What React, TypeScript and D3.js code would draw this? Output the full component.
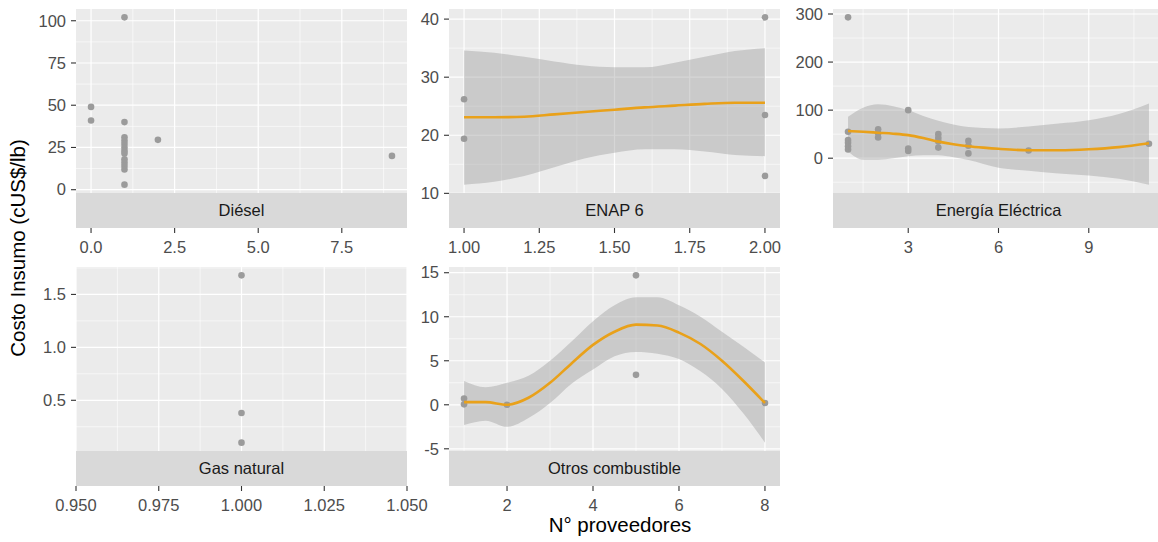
import React from "react";
import * as d3 from "d3";

// ---------- Data ----------
const dieselX = [0, 0, 1, 1, 1, 1, 1, 1, 1, 1, 1, 1, 1, 1, 1, 2, 9];
const dieselY = [49, 41, 102, 40, 31, 29, 27, 25, 23, 21.5, 18, 16, 14, 12, 3, 29.5, 20];

const enapX = [1, 1, 2, 2, 2];
const enapY = [26.2, 19.4, 40.3, 23.5, 13];
const enapFitX = [1, 1.1, 1.2, 1.3, 1.4, 1.5, 1.6, 1.7, 1.8, 1.9, 2.0];
const enapFit = [23.1, 23.1, 23.2, 23.6, 24.0, 24.4, 24.8, 25.1, 25.4, 25.6, 25.6];
const enapHi = [34.6, 34.2, 33.5, 32.7, 32.0, 31.7, 31.7, 32.5, 33.5, 34.5, 35.0];
const enapLo = [11.5, 12.0, 13.0, 14.5, 16.0, 17.0, 17.6, 17.6, 17.2, 16.6, 16.4];

const elecX = [1, 1, 1, 1, 1, 1, 2, 2, 2, 3, 3, 3, 4, 4, 4, 4, 5, 5, 5, 7, 11];
const elecY = [293, 55, 38, 32, 25, 18, 60, 52, 43, 100, 20, 15, 50, 42, 35, 22, 36, 26, 10, 16, 30];
const elecFitX = [1, 1.5, 2, 2.5, 3, 3.5, 4, 4.5, 5, 5.5, 6, 7, 8, 9, 10, 11];
const elecFit = [56.6, 55, 53, 51, 48, 42, 34.5, 29, 25, 22, 19.5, 16.5, 16.5, 18.5, 23, 31];
const elecHi = [86, 105, 112, 108, 100, 88, 78, 70, 65, 63, 62, 66, 72, 79, 92, 114];
const elecLo = [14, -3, -3, 0, 4, 6, 6, 2, -4, -12, -20, -26, -32, -36, -43, -55];

const gasX = [1, 1, 1];
const gasY = [1.68, 0.38, 0.1];

const otrosX = [1, 1, 2, 5, 5, 8];
const otrosY = [0.7, 0.05, 0, 14.7, 3.4, 0.2];
const otrosFitX = [1, 1.5, 2, 2.5, 3, 3.5, 4, 4.5, 5, 5.5, 6, 6.5, 7, 7.5, 8];
const otrosFit = [0.3, 0.3, 0, 0.8, 2.5, 4.7, 6.8, 8.3, 9.1, 9.0, 8.2, 6.9, 5.0, 2.7, 0.2];
const otrosHi = [2.7, 2.0, 2.5, 3.3, 5.0, 7.2, 9.5, 11.3, 12.2, 12.2, 11.3, 10.0, 8.3, 6.6, 4.8];
const otrosLo = [-2.3, -1.8, -2.5, -1.5, 0.2, 2.4, 4.0, 5.5, 6.0, 5.8, 5.2, 3.8, 1.8, -1.0, -4.3];

const panelNames = ["Diésel", "ENAP 6", "Energía Eléctrica", "Gas natural", "Otros combustible"];

const dieselXTicks = [0, 2.5, 5, 7.5];
const dieselXLabels = ["0.0", "2.5", "5.0", "7.5"];
const dieselYTicks = [0, 25, 50, 75, 100];
const dieselYLabels = ["0", "25", "50", "75", "100"];
const enapXTicks = [1, 1.25, 1.5, 1.75, 2];
const enapXLabels = ["1.00", "1.25", "1.50", "1.75", "2.00"];
const enapYTicks = [10, 20, 30, 40];
const enapYLabels = ["10", "20", "30", "40"];
const elecXTicks = [3, 6, 9];
const elecXLabels = ["3", "6", "9"];
const elecYTicks = [0, 100, 200, 300];
const elecYLabels = ["0", "100", "200", "300"];
const gasXTicks = [0.95, 0.975, 1, 1.025, 1.05];
const gasXLabels = ["0.950", "0.975", "1.000", "1.025", "1.050"];
const gasYTicks = [0.5, 1.0, 1.5];
const gasYLabels = ["0.5", "1.0", "1.5"];
const otrosXTicks = [2, 4, 6, 8];
const otrosXLabels = ["2", "4", "6", "8"];
const otrosYTicks = [-5, 0, 5, 10, 15];
const otrosYLabels = ["-5", "0", "5", "10", "15"];

const xTitle = "N° proveedores";
const yTitle = "Costo Insumo (cUS$/lb)";

// ---------- Layout ----------
const W = 1158;
const H = 542;
const colLeft = [76, 449, 833];
const panelW = 331;
const rowTop = [9, 267];
const panelH = 184;
const stripH = 35;
const FONT = "'Liberation Sans', Arial, Helvetica, sans-serif";
const TICK_FS = 16.5;
const TITLE_FS = 20.5;

type Fit = { x: number[]; y: number[]; lo: number[]; hi: number[] } | null;
type PanelDef = {
  name: string;
  xs: number[];
  ys: number[];
  fit: Fit;
  xTicks: number[];
  xLabels: string[];
  yTicks: number[];
  yLabels: string[];
  col: number;
  row: number;
};

const panels: PanelDef[] = [
  { name: panelNames[0], xs: dieselX, ys: dieselY, fit: null, xTicks: dieselXTicks, xLabels: dieselXLabels, yTicks: dieselYTicks, yLabels: dieselYLabels, col: 0, row: 0 },
  { name: panelNames[1], xs: enapX, ys: enapY, fit: { x: enapFitX, y: enapFit, lo: enapLo, hi: enapHi }, xTicks: enapXTicks, xLabels: enapXLabels, yTicks: enapYTicks, yLabels: enapYLabels, col: 1, row: 0 },
  { name: panelNames[2], xs: elecX, ys: elecY, fit: { x: elecFitX, y: elecFit, lo: elecLo, hi: elecHi }, xTicks: elecXTicks, xLabels: elecXLabels, yTicks: elecYTicks, yLabels: elecYLabels, col: 2, row: 0 },
  { name: panelNames[3], xs: gasX, ys: gasY, fit: null, xTicks: gasXTicks, xLabels: gasXLabels, yTicks: gasYTicks, yLabels: gasYLabels, col: 0, row: 1 },
  { name: panelNames[4], xs: otrosX, ys: otrosY, fit: { x: otrosFitX, y: otrosFit, lo: otrosLo, hi: otrosHi }, xTicks: otrosXTicks, xLabels: otrosXLabels, yTicks: otrosYTicks, yLabels: otrosYLabels, col: 1, row: 1 },
];

function expand(vals: number[]): [number, number] {
  const mn = d3.min(vals)!;
  const mx = d3.max(vals)!;
  if (mx === mn) return [mn - 0.05 * Math.abs(mn || 1), mx + 0.05 * Math.abs(mx || 1)];
  const e = (mx - mn) * 0.05;
  return [mn - e, mx + e];
}

function minors(majors: number[], dom: [number, number]): number[] {
  if (majors.length < 2) return [];
  const step = majors[1] - majors[0];
  const out: number[] = [majors[0] - step / 2];
  majors.forEach((m) => out.push(m + step / 2));
  return out.filter((v) => v > dom[0] && v < dom[1]);
}

function Panel({ p, idx }: { p: PanelDef; idx: number }) {
  const left = colLeft[p.col];
  const top = rowTop[p.row];
  const xDom = expand(p.xs);
  const yVals = p.fit ? [...p.ys, ...p.fit.lo, ...p.fit.hi] : p.ys;
  const yDom = expand(yVals);
  const x = d3.scaleLinear().domain(xDom).range([left, left + panelW]);
  const y = d3.scaleLinear().domain(yDom).range([top + panelH, top]);
  const xMin = minors(p.xTicks, xDom);
  const yMin = minors(p.yTicks, yDom);
  const clipId = `clip${idx}`;
  const stripTop = top + panelH;
  const axisY = stripTop + stripH;

  let bandPath = "";
  let linePath = "";
  if (p.fit) {
    const f = p.fit;
    const idxs = f.x.map((_, i) => i);
    bandPath = d3
      .area<number>()
      .x((i) => x(f.x[i]))
      .y0((i) => y(f.lo[i]))
      .y1((i) => y(f.hi[i]))
      .curve(d3.curveMonotoneX)(idxs) || "";
    linePath = d3
      .line<number>()
      .x((i) => x(f.x[i]))
      .y((i) => y(f.y[i]))
      .curve(d3.curveMonotoneX)(idxs) || "";
  }

  return (
    <g>
      <defs>
        <clipPath id={clipId}>
          <rect x={left} y={top} width={panelW} height={panelH} />
        </clipPath>
      </defs>
      <rect x={left} y={top} width={panelW} height={panelH} fill="#EBEBEB" />
      {yMin.map((v, i) => (
        <line key={"ym" + i} x1={left} x2={left + panelW} y1={y(v)} y2={y(v)} stroke="#fff" strokeWidth={0.6} />
      ))}
      {xMin.map((v, i) => (
        <line key={"xm" + i} x1={x(v)} x2={x(v)} y1={top} y2={top + panelH} stroke="#fff" strokeWidth={0.6} />
      ))}
      {p.yTicks.map((v, i) => (
        <line key={"yM" + i} x1={left} x2={left + panelW} y1={y(v)} y2={y(v)} stroke="#fff" strokeWidth={1.2} />
      ))}
      {p.xTicks.map((v, i) => (
        <line key={"xM" + i} x1={x(v)} x2={x(v)} y1={top} y2={top + panelH} stroke="#fff" strokeWidth={1.2} />
      ))}
      <g clipPath={`url(#${clipId})`}>
        {p.xs.map((v, i) => (
          <circle key={"pt" + i} cx={x(v)} cy={y(p.ys[i])} r={3.3} fill="#9b9b9b" />
        ))}
        {p.fit && <path d={bandPath} fill="#999999" fillOpacity={0.4} />}
        {p.fit && <path d={linePath} fill="none" stroke="#E9A11A" strokeWidth={2.6} />}
      </g>
      {/* strip */}
      <rect x={left} y={stripTop} width={panelW} height={stripH} fill="#D9D9D9" />
      <text x={left + panelW / 2} y={stripTop + stripH / 2} dy="0.35em" textAnchor="middle" fontSize={TICK_FS} fill="#1A1A1A" fontFamily={FONT}>
        {p.name}
      </text>
      {/* y axis */}
      {p.yTicks.map((v, i) => (
        <g key={"yt" + i}>
          <line x1={left - 5} x2={left} y1={y(v)} y2={y(v)} stroke="#333" strokeWidth={1.1} />
          <text x={left - 10} y={y(v)} dy="0.35em" textAnchor="end" fontSize={TICK_FS} fill="#4D4D4D" fontFamily={FONT}>
            {p.yLabels[i]}
          </text>
        </g>
      ))}
      {/* x axis */}
      {p.xTicks.map((v, i) => (
        <g key={"xt" + i}>
          <line x1={x(v)} x2={x(v)} y1={axisY} y2={axisY + 5} stroke="#333" strokeWidth={1.1} />
          <text x={x(v)} y={axisY + 25} textAnchor="middle" fontSize={TICK_FS} fill="#4D4D4D" fontFamily={FONT}>
            {p.xLabels[i]}
          </text>
        </g>
      ))}
    </g>
  );
}

export default function App() {
  return (
    <div style={{ position: "fixed", left: 0, top: 0, width: W, height: H, background: "#fff" }}>
      <svg width={W} height={H} viewBox={`0 0 ${W} ${H}`} style={{ display: "block" }}>
        <rect x={0} y={0} width={W} height={H} fill="#fff" />
        {panels.map((p, i) => (
          <Panel key={i} p={p} idx={i} />
        ))}
        <text x={620} y={532} textAnchor="middle" fontSize={TITLE_FS} fill="#000" fontFamily={FONT}>
          {xTitle}
        </text>
        <text transform={`translate(25,248) rotate(-90)`} textAnchor="middle" fontSize={TITLE_FS} fill="#000" fontFamily={FONT}>
          {yTitle}
        </text>
      </svg>
    </div>
  );
}
